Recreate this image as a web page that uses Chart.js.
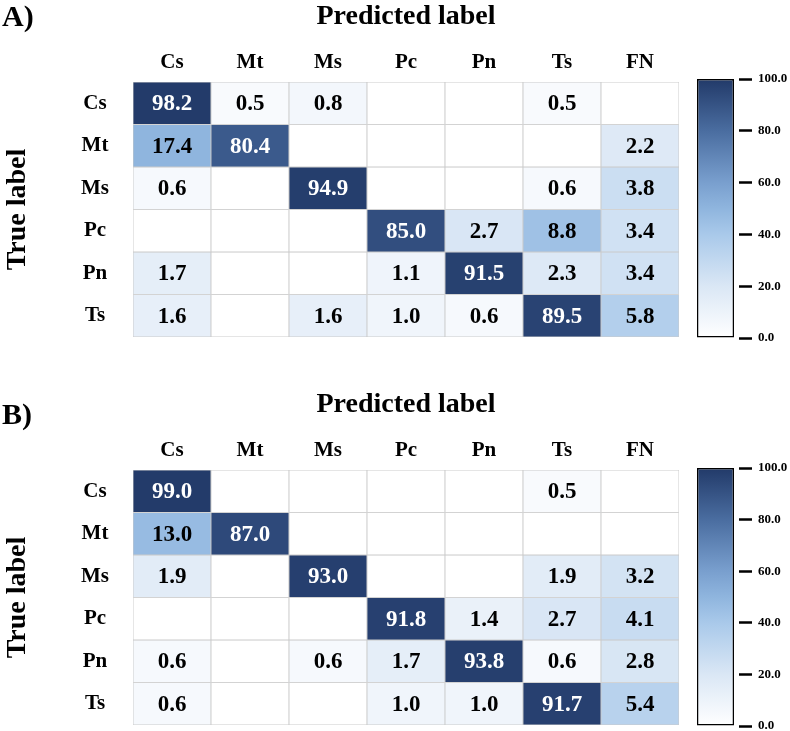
<!DOCTYPE html>
<html>
<head>
<meta charset="utf-8">
<script src="https://cdn.jsdelivr.net/npm/chart.js@4/dist/chart.umd.min.js"></script>
<style>
  html, body { margin: 0; padding: 0; background: #ffffff; }
  body { width: 790px; height: 731px; position: relative; overflow: hidden; }
  canvas { position: absolute; }
</style>
</head>
<body>
<canvas id="heatA" width="690" height="345" style="left:0px;top:0px"></canvas>
<canvas id="barA" width="100" height="360" style="left:690px;top:0px"></canvas>
<canvas id="heatB" width="690" height="345" style="left:0px;top:388px"></canvas>
<canvas id="barB" width="100" height="360" style="left:690px;top:388px"></canvas>
<script>
// ---------- data ----------
const predictedLabels = ['Cs', 'Mt', 'Ms', 'Pc', 'Pn', 'Ts', 'FN'];
const trueLabels = ['Cs', 'Mt', 'Ms', 'Pc', 'Pn', 'Ts'];
const colorbarTicks = [0, 20, 40, 60, 80, 100];

// Panel A (percent), null = empty cell
const A_Cs = [98.2, 0.5, 0.8, null, null, 0.5, null];
const A_Mt = [17.4, 80.4, null, null, null, null, 2.2];
const A_Ms = [0.6, null, 94.9, null, null, 0.6, 3.8];
const A_Pc = [null, null, null, 85.0, 2.7, 8.8, 3.4];
const A_Pn = [1.7, null, null, 1.1, 91.5, 2.3, 3.4];
const A_Ts = [1.6, null, 1.6, 1.0, 0.6, 89.5, 5.8];

// Panel B (percent)
const B_Cs = [99.0, null, null, null, null, 0.5, null];
const B_Mt = [13.0, 87.0, null, null, null, null, null];
const B_Ms = [1.9, null, 93.0, null, null, 1.9, 3.2];
const B_Pc = [null, null, null, 91.8, 1.4, 2.7, 4.1];
const B_Pn = [0.6, null, 0.6, 1.7, 93.8, 0.6, 2.8];
const B_Ts = [0.6, null, null, 1.0, 1.0, 91.7, 5.4];

const matrixA = [A_Cs, A_Mt, A_Ms, A_Pc, A_Pn, A_Ts];
const matrixB = [B_Cs, B_Mt, B_Ms, B_Pc, B_Pn, B_Ts];

// ---------- colour map (style) ----------
const cmapStops = [
  [0.0, '#ffffff'], [0.2, '#dae7f5'], [0.4, '#a9c9ea'], [0.5, '#8fb5de'],
  [0.6, '#799fce'], [0.8, '#4a6da0'], [1.0, '#223a69']
];
// non-linear colour normalisation (value -> position in colour map)
const normIn  = [0, 1.0, 2.2, 5.8, 8.8, 17.4, 80, 90, 100];
const normOut = [0, 0.08, 0.18, 0.36, 0.44, 0.50, 0.87, 0.97, 1];

function hexToRgb(h) { return [parseInt(h.substr(1,2),16), parseInt(h.substr(3,2),16), parseInt(h.substr(5,2),16)]; }
function cmap(t) {
  t = Math.max(0, Math.min(1, t));
  for (let i = 1; i < cmapStops.length; i++) {
    const [t1, c1] = cmapStops[i];
    const [t0, c0] = cmapStops[i - 1];
    if (t <= t1) {
      const f = (t - t0) / (t1 - t0);
      const a = hexToRgb(c0), b = hexToRgb(c1);
      const r = a.map((v, k) => Math.round(v + (b[k] - v) * f));
      return `rgb(${r[0]},${r[1]},${r[2]})`;
    }
  }
  return cmapStops[cmapStops.length - 1][1];
}
function norm(v) {
  for (let i = 1; i < normIn.length; i++) {
    if (v <= normIn[i]) {
      const f = (v - normIn[i - 1]) / (normIn[i] - normIn[i - 1]);
      return normOut[i - 1] + f * (normOut[i] - normOut[i - 1]);
    }
  }
  return 1;
}
function cellColor(v) {
  if (v === null) return '#ffffff';
  return cmap(norm(v));
}

const SERIF = "'Liberation Serif', 'Times New Roman', serif";

// ---------- plugins ----------
const cellLabels = {
  id: 'cellLabels',
  afterDatasetsDraw(chart) {
    const ctx = chart.ctx;
    const matrix = chart.options.plugins.cellLabels.matrix;
    ctx.save();
    ctx.font = `bold 23px ${SERIF}`;
    ctx.textAlign = 'center';
    ctx.textBaseline = 'middle';
    chart.data.datasets.forEach((ds, r) => {
      const meta = chart.getDatasetMeta(r);
      meta.data.forEach((el, c) => {
        const v = matrix[r][c];
        if (v === null) return;
        const cy = (el.y + el.base) / 2;
        ctx.fillStyle = v > 50 ? '#ffffff' : '#000000';
        ctx.fillText(v.toFixed(1), el.x, cy + 1);
      });
    });
    ctx.restore();
  }
};
const panelTag = {
  id: 'panelTag',
  afterDraw(chart) {
    const o = chart.options.plugins.panelTag;
    const ctx = chart.ctx;
    ctx.save();
    ctx.font = `bold 30px ${SERIF}`;
    ctx.fillStyle = '#000';
    ctx.textAlign = 'left';
    ctx.textBaseline = 'middle';
    ctx.fillText(o.text, 2, o.y);
    ctx.restore();
  }
};

// ---------- heatmap ----------
function makeHeatmap(id, matrix, tag, tagY) {
  const datasets = matrix.map((row, r) => ({
    label: trueLabels[r],
    data: predictedLabels.map(() => [r, r + 1]),
    backgroundColor: row.map(cellColor),
    borderColor: '#cacaca',
    borderWidth: 0.8,
    borderSkipped: false,
    grouped: false,
    barPercentage: 1,
    categoryPercentage: 1
  }));
  new Chart(document.getElementById(id), {
    type: 'bar',
    data: { labels: predictedLabels, datasets },
    plugins: [cellLabels, panelTag],
    options: {
      responsive: false,
      animation: false,
      devicePixelRatio: 1,
      layout: { padding: { left: 0, right: 11, top: 0, bottom: 8 } },
      plugins: {
        legend: { display: false },
        tooltip: { enabled: false },
        cellLabels: { matrix },
        panelTag: { text: tag, y: tagY }
      },
      scales: {
        x: {
          type: 'category',
          position: 'top',
          offset: true,
          grid: { display: false, drawTicks: false },
          border: { display: false },
          ticks: { color: '#000', font: { family: SERIF, size: 21, weight: 'bold' }, padding: 7 },
          title: { display: true, text: 'Predicted label', color: '#000',
                   font: { family: SERIF, size: 28, weight: 'bold' }, padding: { top: 0, bottom: 0 } },
          afterFit(scale) { scale.height = 82; scale.paddingLeft = 0; scale.paddingRight = 0; }
        },
        y: {
          type: 'linear',
          reverse: true,
          min: 0,
          max: trueLabels.length,
          grid: { display: false, drawTicks: false },
          border: { display: false },
          afterBuildTicks(scale) { scale.ticks = trueLabels.map((_, i) => ({ value: i + 0.5 })); },
          ticks: {
            color: '#000',
            crossAlign: 'center',
            padding: 24,
            font: { family: SERIF, size: 21, weight: 'bold' },
            callback: (v) => trueLabels[Math.floor(v)]
          },
          title: { display: true, text: 'True label', color: '#000',
                   font: { family: SERIF, size: 28, weight: 'bold' }, padding: { top: 1, bottom: 0 } },
          afterFit(scale) { scale.width = 133; scale.paddingTop = 0; scale.paddingBottom = 0; }
        }
      }
    }
  });
}

// ---------- colorbar ----------
function makeColorbar(id, top, bottomPad) {
  new Chart(document.getElementById(id), {
    type: 'bar',
    data: {
      labels: [''],
      datasets: [{
        data: [[colorbarTicks[0], colorbarTicks[colorbarTicks.length - 1]]],
        backgroundColor(ctx) {
          const ca = ctx.chart.chartArea;
          if (!ca) return '#ffffff';
          const g = ctx.chart.ctx.createLinearGradient(0, ca.bottom, 0, ca.top);
          cmapStops.forEach(([t, c]) => g.addColorStop(t, c));
          return g;
        },
        borderColor: '#000000',
        borderWidth: 1.5,
        borderSkipped: false,
        barThickness: 37,
        inflateAmount: 0
      }]
    },
    options: {
      responsive: false,
      animation: false,
      devicePixelRatio: 1,
      layout: { padding: { left: 2, right: 0, top: top, bottom: bottomPad } },
      plugins: { legend: { display: false }, tooltip: { enabled: false } },
      scales: {
        x: { display: false },
        y: {
          position: 'right',
          min: 0, max: 100,
          afterBuildTicks(scale) { scale.ticks = colorbarTicks.map(v => ({ value: v })); },
          grid: { drawOnChartArea: false, drawTicks: true, tickLength: 13, tickWidth: 2.5, tickColor: '#000' },
          border: { display: false },
          ticks: {
            color: '#000', padding: 6,
            font: { family: SERIF, size: 13, weight: 'bold' },
            callback: (v) => Number(v).toFixed(1)
          },
          afterFit(scale) { scale.width = 51; scale.paddingTop = 0; scale.paddingBottom = 0; }
        }
      }
    }
  });
}

makeHeatmap('heatA', matrixA, 'A)', 18);
makeHeatmap('heatB', matrixB, 'B)', 28);
makeColorbar('barA', 79, 22);
makeColorbar('barB', 80, 22);
</script>
</body>
</html>
